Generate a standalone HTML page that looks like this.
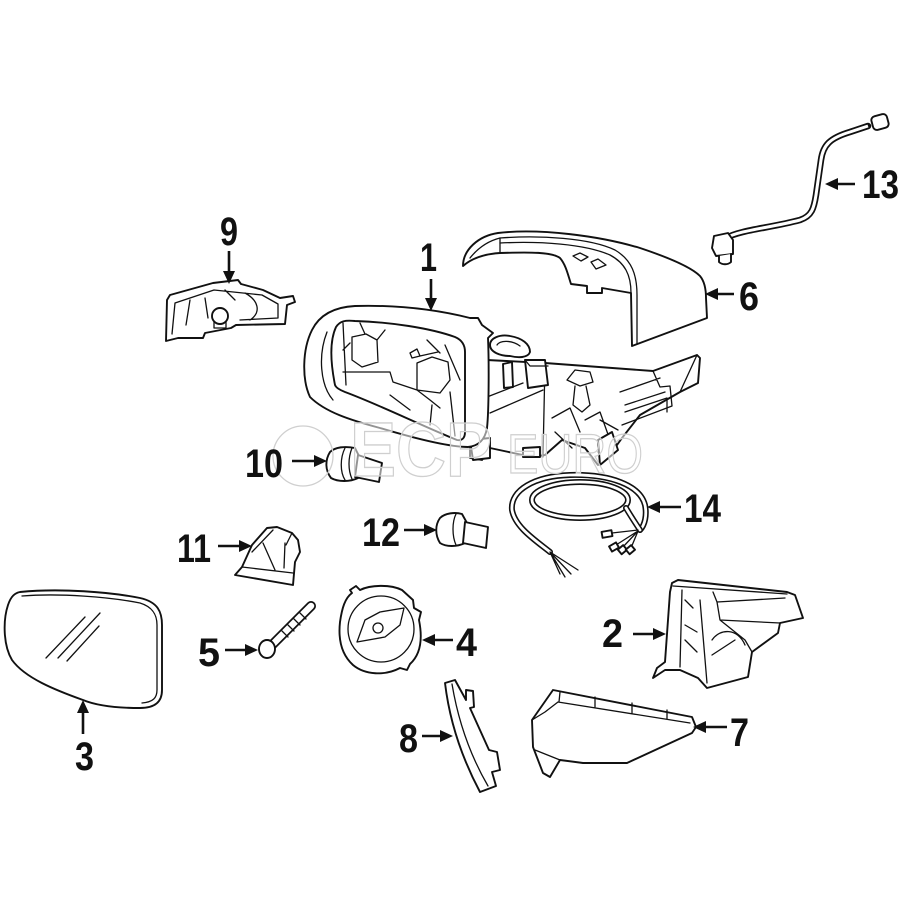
<!DOCTYPE html>
<html><head><meta charset="utf-8"><style>
html,body{margin:0;padding:0;background:#fff;width:900px;height:900px;overflow:hidden}
svg{display:block}
.o{fill:#fff;stroke:#111;stroke-width:1.9;stroke-linejoin:round;stroke-linecap:round}
.l{fill:none;stroke:#111;stroke-width:1.3;stroke-linejoin:round;stroke-linecap:round}
.t{font-family:"Liberation Sans",sans-serif;font-weight:bold;font-size:40px;fill:#111}
.a{stroke:#111;stroke-width:2.6;fill:none}
.h{fill:#111;stroke:none}
</style></head><body>
<svg width="900" height="900" viewBox="0 0 900 900" xmlns="http://www.w3.org/2000/svg">
<rect width="900" height="900" fill="#fff"/>

<!-- Part 3 mirror glass -->
<path class="o" d="M20,592 C60,588 110,592 140,598 C158,602 162,612 162,625 L162,690 C162,702 155,708 140,708 C115,708 95,705 83,700 C55,690 25,678 12,660 C3,645 3,620 8,605 C11,596 15,593 20,592 Z"/>
<path class="l" d="M22,596 C60,593 110,597 140,603 C153,607 157,615 157,625 L157,690 C157,698 153,702 142,703"/>
<path class="l" d="M46,658 L85,617 M58,658 L100,613 M67,661 L99,626"/>

<!-- Part 9 -->
<path class="o" d="M167,300 L170,295 L213,283 L238,280 L241,284 L263,290 L280,298 L293,296 L295,302 L287,305 L285,324 L236,325 L231,328 L205,333 L203,338 L178,338 L166,341 Z"/>
<path class="l" d="M175,303 L214,290 L262,295 L278,304 L278,318 L240,320 M175,303 L172,334 M190,300 L186,325 M205,298 L208,318 M245,293 C258,300 262,312 250,320 M225,290 L235,300"/>
<circle class="o" cx="220" cy="316" r="8"/>
<path class="l" d="M214,322 L214,328 L226,328 L226,322"/>

<!-- Part 6 mirror cover -->
<path class="o" d="M463,266 C463,250 478,236 498,233 C540,228 600,236 640,248 C670,258 692,268 700,276 C705,282 706,290 706,298 L707,318 L632,346 L631,293 L602,288 L602,293 L587,293 L587,286 L571,284 C568,275 566,265 560,258 C552,252 530,252 500,253 C485,254 472,258 463,266 Z"/>
<path class="l" d="M500,238 C540,235 590,238 615,250 C632,260 637,275 637,295 L637,344"/>
<path class="l" d="M500,243 C540,241 585,244 610,255 C625,263 631,275 631,293"/>
<path class="l" d="M500,238 L500,253 M470,258 C478,248 488,241 500,238"/>
<path class="l" d="M573,256 L580,253 L588,257 L581,261 Z M591,262 L598,259 L606,265 L596,269 Z"/>

<!-- Part 13 wire -->
<path d="M726,238 C740,230 770,228 800,220 C812,216 814,208 816,195 L821,160 C823,145 830,138 850,132 L868,126" fill="none" stroke="#111" stroke-width="6.5" stroke-linecap="round"/>
<path d="M726,238 C740,230 770,228 800,220 C812,216 814,208 816,195 L821,160 C823,145 830,138 850,132 L868,126" fill="none" stroke="#fff" stroke-width="3"/>
<rect class="o" x="872" y="115" width="16" height="14" rx="4" transform="rotate(-15 880 122)"/>
<path class="o" d="M714,236 L728,233 L733,240 L733,254 L716,256 L712,248 Z"/>
<path class="o" d="M719,256 L719,262 C722,265 728,265 731,262 L731,254"/>

<!-- Part 1 housing: arm -->
<path class="o" d="M487,360 L545,363 L653,371 L697,355 L700,358 L698,383 L680,392 L640,415 L622,438 L612,452 L598,465 L585,448 L562,440 L545,455 L532,457 L490,448 L482,460 L470,458 L470,447 L487,428 Z"/>
<path class="l" d="M487,397 L523,383 M490,413 L543,390 M545,363 L543,457 M653,371 L660,387 L670,386 L672,406 L622,425 M620,392 L660,378 M625,405 L665,392 M625,412 L667,398 L667,412 M697,355 L680,392"/>
<path class="l" d="M567,380 L575,370 L590,372 L593,382 L580,386 Z M575,386 L573,405 L582,412 L590,405 L586,386 M552,418 L570,408 L580,432 M585,420 L600,412 L610,440 L598,452 M555,432 L572,448 M600,420 L618,430"/>
<path class="o" d="M503,364 L512,362 L513,387 L504,388 Z"/>
<path class="o" d="M525,360 L545,360 L548,385 L528,388 Z"/>
<path class="l" d="M525,360 L530,366 L548,366"/>
<path class="o" d="M490,345 C490,338 500,334 510,336 C522,338 530,344 530,352 C528,358 518,358 510,356 C500,356 490,352 490,345 Z"/>
<path class="l" d="M497,345 C500,340 512,340 520,346"/>
<path class="o" d="M470,440 L490,438 L490,458 L473,460 Z"/>
<path class="o" d="M523,448 L540,447 L540,457 L523,457 Z"/>
<path class="o" d="M598,440 L612,432 L618,450 L600,465 Z"/>

<!-- Part 1 frame -->
<path class="o" d="M310,397 C302,380 302,350 312,330 C320,314 335,307 355,306 C390,305 430,308 470,318 L478,318 L482,325 L493,333 L488,338 C489,360 489,410 487,428 C485,440 478,446 468,447 C450,447 420,440 380,428 C350,420 325,412 310,397 Z"/>
<path class="o" d="M335,385 C330,360 330,340 336,327 C340,321 345,320 355,321 C390,322 430,328 455,337 C462,340 465,345 465,352 L465,432 C465,438 462,441 457,440 C420,425 380,405 345,392 C340,390 336,388 335,385 Z"/>
<path class="l" d="M327,332 C318,355 320,385 333,400"/>
<path class="l" d="M352,337 L366,334 L377,340 L378,362 L362,367 L352,360 Z M343,323 L346,385 M360,323 L365,334 M377,340 L385,330 M343,372 L390,372 L393,382 L417,390 L430,400 L440,408 M417,363 L432,357 L448,362 L450,380 L440,393 L417,390 Z M410,353 L417,349 L420,356 L412,358 Z M420,356 L438,352 M427,340 L440,353 M445,345 L460,380 M432,405 L430,425 M450,392 L455,436 M390,395 L410,410 M350,343 L343,350"/>

<!-- Part 10 bulb -->
<path class="o" d="M330,452 C335,447 345,446 355,448 L360,458 L358,478 C350,482 338,482 331,478 C325,470 325,460 330,452 Z"/>
<path class="o" d="M358,455 L382,463 L379,482 L355,477 Z"/>
<path class="l" d="M345,448 C340,458 340,472 345,480 M352,448 C348,458 348,470 352,479"/>

<!-- Part 12 bulb -->
<path class="o" d="M440,518 C445,513 455,512 462,514 L467,523 L465,543 C457,547 446,547 440,543 C435,535 435,525 440,518 Z"/>
<path class="o" d="M465,522 L488,527 L486,548 L463,543 Z"/>
<path class="l" d="M456,514 C452,522 452,536 456,545"/>

<!-- Part 11 -->
<path class="o" d="M235,575 L242,567 L252,545 L267,528 L277,527 L292,533 L298,540 L300,552 L295,562 L293,585 Z"/>
<path class="l" d="M242,567 L293,573 M252,552 L273,530 M263,543 L275,570 M285,543 L284,568 M292,533 L286,545"/>

<!-- Part 5 screw -->
<path d="M272,645 L311,606" stroke="#111" stroke-width="10" stroke-linecap="round"/>
<path d="M272,645 L311,606" stroke="#fff" stroke-width="6.5" stroke-linecap="round"/>
<path class="l" d="M282,631 L288,637 M288,625 L294,631 M294,619 L300,625 M300,613 L306,619"/>
<ellipse class="o" cx="267" cy="649" rx="8" ry="9"/>

<!-- Part 4 motor -->
<path class="o" d="M350,590 L356,586 L360,590 C370,585 390,584 402,590 L413,600 L414,608 L421,612 L419,620 C423,640 420,655 410,664 L407,670 L400,668 C385,676 365,675 353,665 C342,655 338,640 340,622 C342,608 345,598 352,593 Z"/>
<circle class="l" cx="381" cy="629" r="33"/>
<path class="l" d="M357,642 L365,620 L380,612 L404,608 L400,625 L385,637 Z"/>
<circle class="l" cx="378" cy="628" r="5"/>

<!-- Part 8 -->
<path class="o" d="M445,683 L455,680 L466,700 L466,690 L473,691 L474,707 L470,708 L489,750 L497,752 L500,770 L492,772 L496,786 L480,792 C463,760 450,725 445,683 Z"/>
<path class="l" d="M452,684 C458,720 470,755 488,786"/>

<!-- Part 7 -->
<path class="o" d="M553,690 L692,717 L696,727 L692,733 L627,763 L613,763 L583,763 L560,760 L550,777 L543,773 L533,747 L532,720 Z"/>
<path class="l" d="M558,702 L690,723 M560,692 L559,702 M595,697 L595,707 M632,703 L632,713 M667,710 L667,719 M532,720 L545,712 L558,702 M535,750 L560,760"/>

<!-- Part 2 -->
<path class="o" d="M672,583 L678,580 L787,592 L795,595 L803,618 L780,623 L778,633 L752,652 L748,677 L707,688 L698,678 L680,670 L665,670 L653,678 L657,668 L665,662 L670,592 Z"/>
<path class="l" d="M682,590 L680,667 M700,600 L707,683 M673,586 L787,594 M713,592 L717,602 L785,598 M717,602 L720,620 L780,623 M720,620 L745,640 L752,652 M685,600 L693,608 M685,640 L697,652 M685,625 L697,632 M712,640 C720,628 738,628 745,645 M712,655 L735,640"/>

<!-- Part 14 harness -->
<g fill="none" stroke-linecap="round">
<path d="M550,552 C535,540 515,527 512,510 C510,490 535,476 570,475 C610,474 640,485 645,505 C647,515 645,525 640,530" stroke="#111" stroke-width="6"/>
<path d="M550,552 C535,540 515,527 512,510 C510,490 535,476 570,475 C610,474 640,485 645,505 C647,515 645,525 640,530" stroke="#fff" stroke-width="2.8"/>
<ellipse cx="580" cy="500" rx="48" ry="18" stroke="#111" stroke-width="6"/>
<ellipse cx="580" cy="500" rx="48" ry="18" stroke="#fff" stroke-width="2.8"/>
<path d="M626,508 C632,518 636,524 640,530" stroke="#111" stroke-width="6"/>
<path d="M626,508 C632,518 636,524 640,530" stroke="#fff" stroke-width="2.8"/>
</g>
<path class="l" d="M550,552 L560,574 M550,552 L565,577 M550,552 L571,574 M550,552 L578,570"/>
<path class="l" d="M638,530 L612,533 M638,531 L616,545 M638,531 L622,548 M638,531 L631,548"/>
<rect class="o" x="602" y="531" width="10" height="6" transform="rotate(-10 607 534)"/>
<rect class="o" x="610" y="544" width="8" height="6" transform="rotate(-30 614 547)"/>
<rect class="o" x="619" y="547" width="7" height="6" transform="rotate(-40 622 550)"/>
<rect class="o" x="627" y="547" width="7" height="6" transform="rotate(-40 630 550)"/>

<!-- watermark -->
<g fill="#fff" fill-opacity="0.55" stroke="#cfcfcf" stroke-width="1.3">
<circle cx="303" cy="456" r="30" fill="none"/>
<text x="350" y="476" font-family="Liberation Sans,sans-serif" font-size="77" font-weight="bold" textLength="142" lengthAdjust="spacingAndGlyphs">ECP</text>
<text x="507" y="473" font-family="Liberation Sans,sans-serif" font-size="56" textLength="136" lengthAdjust="spacingAndGlyphs">EURO</text>
</g>

<!-- Arrows -->
<line class="a" x1="229" y1="251" x2="229" y2="272"/><path class="h" d="M223,271 L235,271 L229,284 Z"/>
<line class="a" x1="431" y1="279" x2="431" y2="299"/><path class="h" d="M425,298 L437,298 L431,311 Z"/>
<line class="a" x1="855" y1="184" x2="836" y2="184"/><path class="h" d="M838,178 L838,190 L825,184 Z"/>
<line class="a" x1="734" y1="294" x2="716" y2="294"/><path class="h" d="M718,288 L718,300 L705,294 Z"/>
<line class="a" x1="681" y1="507" x2="658" y2="507"/><path class="h" d="M660,501 L660,513 L647,507 Z"/>
<line class="a" x1="633" y1="634" x2="655" y2="634"/><path class="h" d="M653,628 L653,640 L666,634 Z"/>
<line class="a" x1="727" y1="727" x2="704" y2="727"/><path class="h" d="M706,721 L706,733 L693,727 Z"/>
<line class="a" x1="292" y1="461" x2="316" y2="461"/><path class="h" d="M314,455 L314,467 L327,461 Z"/>
<line class="a" x1="218" y1="546" x2="241" y2="546"/><path class="h" d="M239,540 L239,552 L252,546 Z"/>
<line class="a" x1="404" y1="530" x2="426" y2="530"/><path class="h" d="M424,524 L424,536 L437,530 Z"/>
<line class="a" x1="225" y1="650" x2="247" y2="650"/><path class="h" d="M245,644 L245,656 L258,650 Z"/>
<line class="a" x1="453" y1="640" x2="433" y2="640"/><path class="h" d="M435,634 L435,646 L422,640 Z"/>
<line class="a" x1="83" y1="734" x2="83" y2="711"/><path class="h" d="M77,713 L89,713 L83,700 Z"/>
<line class="a" x1="422" y1="736" x2="442" y2="736"/><path class="h" d="M440,730 L440,742 L453,736 Z"/>

<!-- Labels -->
<text class="t" x="220" y="245" textLength="18" lengthAdjust="spacingAndGlyphs">9</text>
<text class="t" x="420" y="271" textLength="17" lengthAdjust="spacingAndGlyphs">1</text>
<text class="t" x="862" y="198" textLength="37" lengthAdjust="spacingAndGlyphs">13</text>
<text class="t" x="739" y="310" textLength="20" lengthAdjust="spacingAndGlyphs">6</text>
<text class="t" x="684" y="522" textLength="37" lengthAdjust="spacingAndGlyphs">14</text>
<text class="t" x="602" y="647" textLength="21" lengthAdjust="spacingAndGlyphs">2</text>
<text class="t" x="730" y="746" textLength="19" lengthAdjust="spacingAndGlyphs">7</text>
<text class="t" x="245" y="477" textLength="38" lengthAdjust="spacingAndGlyphs">10</text>
<text class="t" x="177" y="562" textLength="34" lengthAdjust="spacingAndGlyphs">11</text>
<text class="t" x="362" y="546" textLength="38" lengthAdjust="spacingAndGlyphs">12</text>
<text class="t" x="198" y="666" textLength="22" lengthAdjust="spacingAndGlyphs">5</text>
<text class="t" x="456" y="656" textLength="21" lengthAdjust="spacingAndGlyphs">4</text>
<text class="t" x="75" y="770" textLength="19" lengthAdjust="spacingAndGlyphs">3</text>
<text class="t" x="399" y="752" textLength="19" lengthAdjust="spacingAndGlyphs">8</text>
</svg>
</body></html>
